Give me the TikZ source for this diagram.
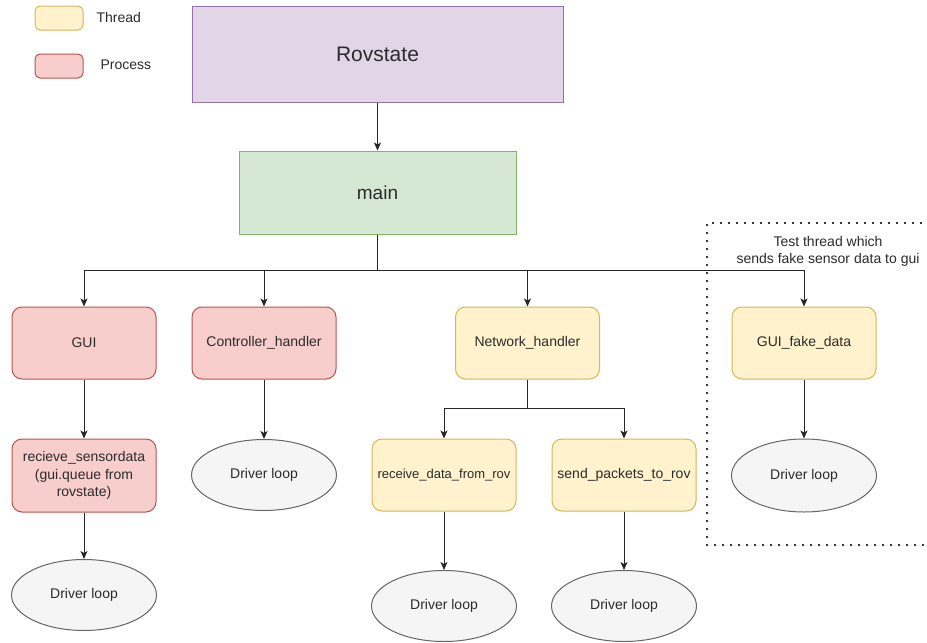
\documentclass[tikz,border=0pt]{standalone}
\usepackage{fontspec}
\setmainfont{Liberation Sans}
\usetikzlibrary{arrows.meta,shapes.geometric}
\definecolor{thrfill}{HTML}{FFF2CC}
\definecolor{thrdraw}{HTML}{D6B656}
\definecolor{prcfill}{HTML}{F8CECC}
\definecolor{prcdraw}{HTML}{B85450}
\definecolor{rovfill}{HTML}{E1D5E7}
\definecolor{rovdraw}{HTML}{9673A6}
\definecolor{mainfill}{HTML}{D5E8D4}
\definecolor{maindraw}{HTML}{82B366}
\definecolor{ellfill}{HTML}{F5F5F5}
\definecolor{elldraw}{HTML}{666666}
\definecolor{txt}{HTML}{2B2B2B}
\tikzset{
  base/.style={inner sep=0pt, text=txt, line width=1pt, align=center,
    font=\fontsize{14}{17.5}\selectfont},
  thread/.style={base, draw=thrdraw, fill=thrfill, rounded corners=10pt,
    minimum width=144pt, minimum height=72pt},
  process/.style={base, draw=prcdraw, fill=prcfill, rounded corners=10pt,
    minimum width=144pt, minimum height=72pt},
  loop/.style={base, ellipse, draw=elldraw, fill=ellfill,
    minimum width=145pt, minimum height=71pt},
  legendbox/.style={line width=1pt, rounded corners=5pt,
    minimum width=48pt, minimum height=24pt, inner sep=0pt},
  lbl/.style={base, anchor=west},
  arr/.style={-{Stealth[length=8pt,width=7pt,inset=2pt]}, line width=1pt, black!85},
}
\begin{document}
\begin{tikzpicture}[x=1pt,y=-1pt]
\useasboundingbox[fill=white] (0,0) rectangle (927,643);

% legend
\node[legendbox, draw=thrdraw, fill=thrfill] (legT) at (59,18) {};
\node[lbl] (legTl) at (96,17) {Thread};
\node[legendbox, draw=prcdraw, fill=prcfill] (legP) at (59,66) {};
\node[lbl] (legPl) at (100,65) {Process};

% top
\node[base, draw=rovdraw, fill=rovfill, minimum width=371pt, minimum height=96pt,
  font=\fontsize{21}{25}\selectfont] (rov) at (377.5,54) {Rovstate};
\node[base, draw=maindraw, fill=mainfill, minimum width=277pt, minimum height=83pt,
  font=\fontsize{19}{23}\selectfont] (main) at (377.5,192.5) {main};

% second row
\node[process] (gui) at (84,343) {GUI};
\node[process] (ctrl) at (264,343) {Controller\_handler};
\node[thread] (net) at (527.5,343) {Network\_handler};
\node[thread] (fake) at (804,343) {GUI\_fake\_data};

% third row
\node[process, minimum height=73pt] (recv) at (84,475.5) {recieve\_sensordata\\(gui.queue from\\rovstate)};
\node[loop] (ctrlloop) at (264,475) {Driver loop};
\node[thread, font=\fontsize{13}{16}\selectfont] (rdr) at (444,475) {receive\_data\_from\_rov};
\node[thread] (spr) at (624,475) {send\_packets\_to\_rov};
\node[loop, minimum height=73pt] (fakeloop) at (804,475.5) {Driver loop};

% bottom row
\node[loop] (guiloop) at (84,595) {Driver loop};
\node[loop] (rdrloop) at (444,606) {Driver loop};
\node[loop] (sprloop) at (624,606) {Driver loop};

% test area
\node[base] (testlbl) at (828,251.5) {Test thread which\\sends fake sensor data to gui};
\coordinate (dA) at (930,223);
\coordinate (dB) at (707,223);
\coordinate (dC) at (707,545);
\coordinate (dD) at (930,545);
\draw[line width=2pt, black!80, dash pattern=on 2pt off 6pt] (dA) -- (dB) -- (dC) -- (dD);

% connectors
\coordinate (bus) at (377.5,270);
\coordinate (nbus) at (527.5,408);
\draw[arr] (rov) -- (main);
\draw[arr] (main.south) -- (bus) -| (gui.north);
\draw[arr] (main.south) -- (bus) -| (ctrl.north);
\draw[arr] (main.south) -- (bus) -| (net.north);
\draw[arr] (main.south) -- (bus) -| (fake.north);
\draw[arr] (gui) -- (recv);
\draw[arr] (ctrl) -- (ctrlloop);
\draw[arr] (net.south) -- (nbus) -| (rdr.north);
\draw[arr] (net.south) -- (nbus) -| (spr.north);
\draw[arr] (fake) -- (fakeloop);
\draw[arr] (recv) -- (guiloop);
\draw[arr] (rdr) -- (rdrloop);
\draw[arr] (spr) -- (sprloop);
\end{tikzpicture}
\end{document}
